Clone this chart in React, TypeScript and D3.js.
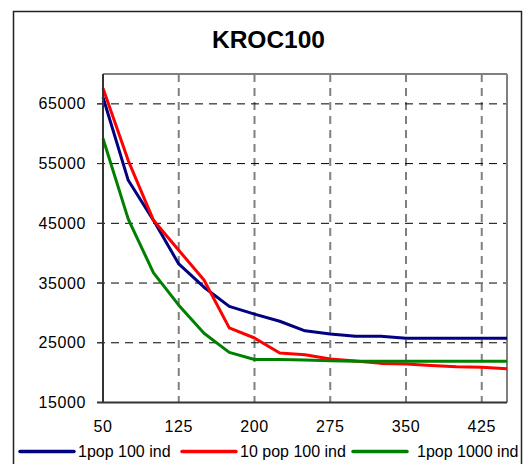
import React from "react";
import * as d3 from "d3";

const xValues = [50, 75, 100, 125, 150, 175, 200, 225, 250, 275, 300, 325, 350, 375, 400, 425, 450];
const series1pop100 = [66100, 52200, 45500, 38200, 34300, 31100, 29800, 28600, 27000, 26450, 26100, 26100, 25750, 25750, 25750, 25750, 25750];
const series10pop100 = [67600, 55500, 45500, 40500, 35500, 27500, 25800, 23300, 23000, 22270, 21950, 21550, 21440, 21200, 21000, 20900, 20650];
const series1pop1000 = [59200, 45700, 36700, 31300, 26600, 23400, 22200, 22200, 22100, 22000, 21900, 21900, 21900, 21900, 21900, 21900, 21900];
const yTicks = [15000, 25000, 35000, 45000, 55000, 65000];
const xTicks = [50, 125, 200, 275, 350, 425];
const seriesNames = ["1pop 100 ind", "10 pop 100 ind", "1pop 1000 ind"];
const seriesColors = ["#000080", "#ff0000", "#008000"];

export default function App() {
  const W = 523, H = 464;
  const left = 103, right = 507, top = 74, bottom = 402.5;
  const x = d3.scaleLinear().domain([50, 450]).range([left, right]);
  const y = d3.scaleLinear().domain([15000, 70000]).range([bottom, top]);
  const all = [series1pop100, series10pop100, series1pop1000];
  const line = d3.line<number>().x((_, i) => x(xValues[i])).y((d) => y(d));
  const font = "'Liberation Sans', Arial, sans-serif";
  const legendX = [20, 182, 353];
  const legendTextX = [78, 240, 417];

  return (
    <div style={{ position: "absolute", left: 0, top: 0 }}>
      <svg width={W} height={H} style={{ display: "block", background: "#fff" }}>
        <rect x={13.5} y={11.5} width={508} height={480} fill="none" stroke="#222" strokeWidth={1.5} />
        <text x={268.5} y={48} textAnchor="middle" fontFamily={font} fontWeight="bold" fontSize={24.5} fill="#000">KROC100</text>
        {xTicks.filter((t) => t !== 50).map((t) => (
          <line key={"vx" + t} x1={x(t)} x2={x(t)} y1={top} y2={bottom} stroke="#808080" strokeWidth={2} strokeDasharray="8,6" />
        ))}
        {yTicks.filter((t) => t !== 15000).map((t) => (
          <line key={"hy" + t} x1={97} x2={right} y1={y(t)} y2={y(t)} stroke="#000" strokeWidth={1} strokeDasharray="8,6" />
        ))}
        <line x1={left} x2={right} y1={top} y2={top} stroke="#808080" strokeWidth={2} />
        <line x1={right} x2={right} y1={top} y2={bottom} stroke="#808080" strokeWidth={2} />
        {all.map((s, i) => (
          <path key={"s" + i} d={line(s) || ""} fill="none" stroke={seriesColors[i]} strokeWidth={3} strokeLinejoin="round" />
        ))}
        <line x1={left} x2={left} y1={top} y2={bottom} stroke="#333" strokeWidth={2} />
        <line x1={97} x2={right} y1={bottom} y2={bottom} stroke="#333" strokeWidth={2} />
        {yTicks.map((t) => (
          <g key={"yt" + t}>
            <line x1={97} x2={left} y1={y(t)} y2={y(t)} stroke="#333" strokeWidth={1} />
            <text x={86} y={y(t) + 5.5} textAnchor="end" fontFamily={font} fontSize={16} letterSpacing={0.6} fill="#000">{t}</text>
          </g>
        ))}
        {xTicks.map((t) => (
          <text key={"xt" + t} x={x(t)} y={432} textAnchor="middle" fontFamily={font} fontSize={16} letterSpacing={0.6} fill="#000">{t}</text>
        ))}
        {seriesNames.map((n, i) => (
          <g key={"lg" + i}>
            <line x1={legendX[i]} x2={legendX[i] + 54} y1={451.5} y2={451.5} stroke={seriesColors[i]} strokeWidth={3.5} strokeLinecap="round" />
            <text x={legendTextX[i]} y={457} fontFamily={font} fontSize={16} fill="#000">{n}</text>
          </g>
        ))}
      </svg>
    </div>
  );
}
